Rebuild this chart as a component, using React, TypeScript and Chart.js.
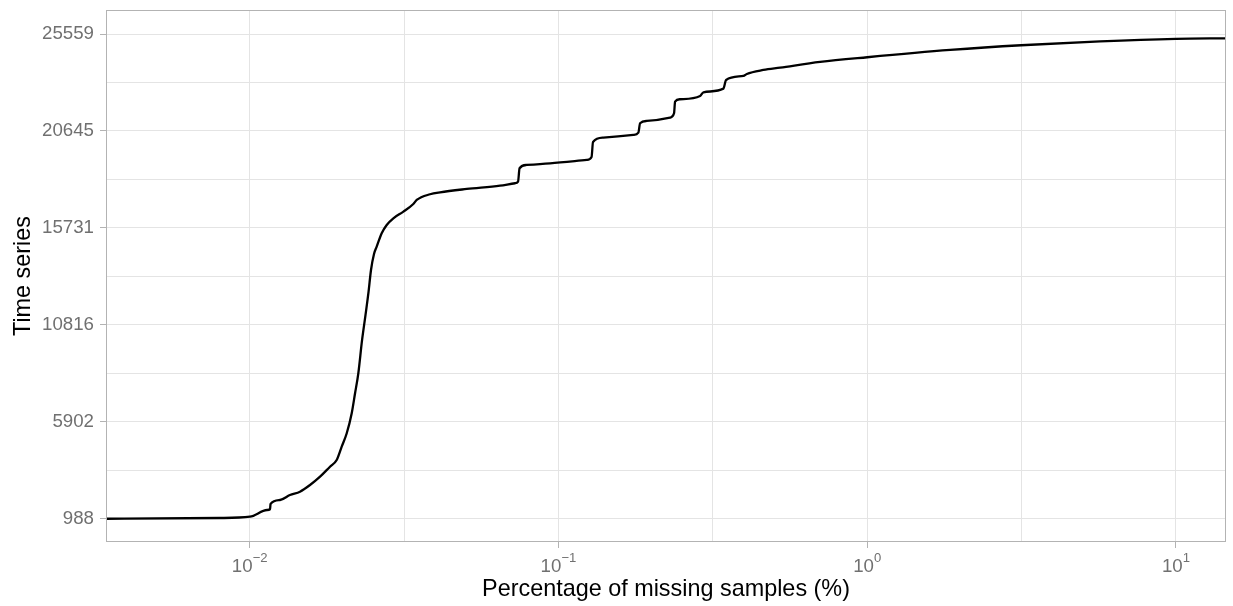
import React, { useEffect, useRef } from 'react';
import { Chart, registerables } from 'chart.js';

Chart.register(...registerables);

// Percentage of missing samples (x, log scale)
const missingPct = [
  0.0034, 0.00801, 0.01002, 0.01138, 0.01164, 0.01168, 0.01254, 0.0135, 0.01455, 0.01568,
  0.0169, 0.0182, 0.01913, 0.01986, 0.02062, 0.0214, 0.02194, 0.02248, 0.02312, 0.02372,
  0.02426, 0.02471, 0.02527, 0.02578, 0.02676, 0.02778, 0.02919, 0.03146, 0.03388, 0.03475,
  0.03838, 0.04136, 0.05047, 0.06469, 0.07235, 0.07398, 0.07482, 0.0789, 0.09394, 0.1235,
  0.128, 0.1294, 0.1398, 0.1748, 0.1815, 0.1838, 0.1932, 0.2298, 0.2368, 0.2386,
  0.2476, 0.2876, 0.2948, 0.3421, 0.3491, 0.3972, 0.4074, 0.4611, 0.5223, 0.7039,
  1.0, 1.857, 3.15, 5.68, 10, 14.6,
];

// Cumulative number of time series (y)
const timeSeries = [
  985, 1023, 1089, 1429, 1465, 1733, 1936, 2190, 2357, 2696,
  3117, 3624, 3964, 4638, 5318, 6332, 7346, 8360, 10048, 11316,
  12482, 13597, 14408, 14778, 15458, 15879, 16218, 16553, 16943, 17146,
  17435, 17536, 17703, 17871, 17993, 18074, 18753, 18920, 19006, 19174,
  19326, 20086, 20305, 20441, 20558, 21034, 21151, 21319, 21542, 22130,
  22252, 22419, 22606, 22789, 23229, 23432, 23533, 23736, 23854, 24143,
  24381, 24751, 24990, 25181, 25308, 25343,
];

const yMajorTicks = [988, 5902, 10816, 15731, 20645, 25559];
const xMajorExponents = [-2, -1, 0, 1];

const X_MIN = Math.pow(10, -2.4654);
const X_MAX = Math.pow(10, 1.162);
const Y_MIN = -193;
const Y_MAX = 26776;

const FONT = "'Liberation Sans', Arial, Helvetica, sans-serif";
const TICK_COLOR = '#707070';
const GRID_COLOR = '#e4e4e4';
const BORDER_COLOR = '#b3b3b3';

const isMajorX = (v: number) => {
  const l = Math.log10(v);
  return Math.abs(l - Math.round(l)) < 1e-6;
};

const panelPlugin = {
  id: 'panelPlugin',
  afterDatasetsDraw(chart: any) {
    const { ctx, chartArea: a } = chart;
    ctx.save();
    ctx.strokeStyle = BORDER_COLOR;
    ctx.lineWidth = 1;
    ctx.strokeRect(a.left + 0.5, a.top + 0.5, a.right - a.left - 1, a.bottom - a.top - 1);
    ctx.restore();
  },
  afterDraw(chart: any) {
    const { ctx } = chart;
    const xs = chart.scales.x;
    const bigSize = 18.7;
    const smallSize = 13.1;
    const baseY = chart.chartArea.bottom + 30;
    ctx.save();
    ctx.fillStyle = TICK_COLOR;
    ctx.textBaseline = 'alphabetic';
    ctx.textAlign = 'left';
    for (const e of xMajorExponents) {
      const px = xs.getPixelForValue(Math.pow(10, e));
      const base = '10';
      const exp = e < 0 ? '\u2212' + String(-e) : String(e);
      ctx.font = `${bigSize}px ${FONT}`;
      const w1 = ctx.measureText(base).width;
      ctx.font = `${smallSize}px ${FONT}`;
      const w2 = ctx.measureText(exp).width;
      const start = px - (w1 + w2) / 2;
      ctx.font = `${bigSize}px ${FONT}`;
      ctx.fillText(base, start, baseY);
      ctx.font = `${smallSize}px ${FONT}`;
      ctx.fillText(exp, start + w1, baseY - 9.7);
    }
    ctx.restore();
  },
};

export default function App() {
  const canvasRef = useRef<HTMLCanvasElement | null>(null);

  useEffect(() => {
    if (!canvasRef.current) return;
    Chart.defaults.font.family = FONT;

    const points = missingPct.map((x, i) => ({ x, y: timeSeries[i] }));

    const yMinor: number[] = [];
    for (let i = 0; i < yMajorTicks.length - 1; i++) {
      yMinor.push((yMajorTicks[i] + yMajorTicks[i + 1]) / 2);
    }
    const yAll = [...yMajorTicks, ...yMinor].sort((a, b) => a - b);

    const xAll: number[] = [];
    for (let i = 0; i < xMajorExponents.length; i++) {
      xAll.push(Math.pow(10, xMajorExponents[i]));
      if (i < xMajorExponents.length - 1) xAll.push(Math.pow(10, xMajorExponents[i] + 0.5));
    }

    const chart = new Chart(canvasRef.current, {
      type: 'line',
      data: {
        datasets: [
          {
            data: points,
            borderColor: '#000000',
            borderWidth: 2.3,
            pointRadius: 0,
            fill: false,
            cubicInterpolationMode: 'monotone',
            clip: 0,
          } as any,
        ],
      },
      plugins: [panelPlugin],
      options: {
        animation: false,
        responsive: false,
        maintainAspectRatio: false,
        devicePixelRatio: 1,
        layout: { padding: { left: 0, right: 7, top: 10, bottom: 0 } },
        plugins: { legend: { display: false }, tooltip: { enabled: false } },
        scales: {
          x: {
            type: 'logarithmic',
            min: X_MIN,
            max: X_MAX,
            afterBuildTicks: (axis: any) => {
              axis.ticks = xAll.map((v) => ({ value: v }));
            },
            afterFit: (axis: any) => {
              axis.height = 64;
              axis.paddingLeft = 0;
              axis.paddingRight = 0;
              axis.paddingTop = 0;
              axis.paddingBottom = 0;
            },
            ticks: { display: false, autoSkip: false },
            grid: {
              color: GRID_COLOR,
              lineWidth: 1,
              drawTicks: true,
              tickLength: 6,
              tickWidth: 1,
              tickColor: (ctx: any) =>
                ctx.tick && isMajorX(ctx.tick.value) ? BORDER_COLOR : 'rgba(0,0,0,0)',
            },
            border: { display: false },
            title: {
              display: true,
              text: 'Percentage of missing samples (%)',
              color: '#000000',
              font: { size: 23.4, family: FONT },
              padding: { top: 0, bottom: 2 },
            },
          },
          y: {
            type: 'linear',
            min: Y_MIN,
            max: Y_MAX,
            afterBuildTicks: (axis: any) => {
              axis.ticks = yAll.map((v) => ({ value: v }));
            },
            afterFit: (axis: any) => {
              axis.width = 106;
              axis.paddingTop = 0;
              axis.paddingBottom = 0;
              axis.paddingLeft = 0;
              axis.paddingRight = 0;
            },
            ticks: {
              autoSkip: false,
              color: TICK_COLOR,
              font: { size: 18.7, family: FONT },
              padding: 6,
              callback: (value: any) =>
                yMajorTicks.includes(Number(value)) ? String(value) : '',
            },
            grid: {
              color: GRID_COLOR,
              lineWidth: 1,
              drawTicks: true,
              tickLength: 6,
              tickWidth: 1,
              tickColor: (ctx: any) =>
                ctx.tick && yMajorTicks.includes(ctx.tick.value) ? BORDER_COLOR : 'rgba(0,0,0,0)',
            },
            border: { display: false },
            title: {
              display: true,
              text: 'Time series',
              color: '#000000',
              font: { size: 23.4, family: FONT },
              padding: { top: 10, bottom: 0 },
            },
          },
        },
      },
    });

    return () => chart.destroy();
  }, []);

  return (
    <div style={{ position: 'absolute', left: 0, top: 0, width: 1233, height: 606, background: '#ffffff' }}>
      <canvas ref={canvasRef} width={1233} height={606} style={{ width: 1233, height: 606, display: 'block' }} />
    </div>
  );
}
